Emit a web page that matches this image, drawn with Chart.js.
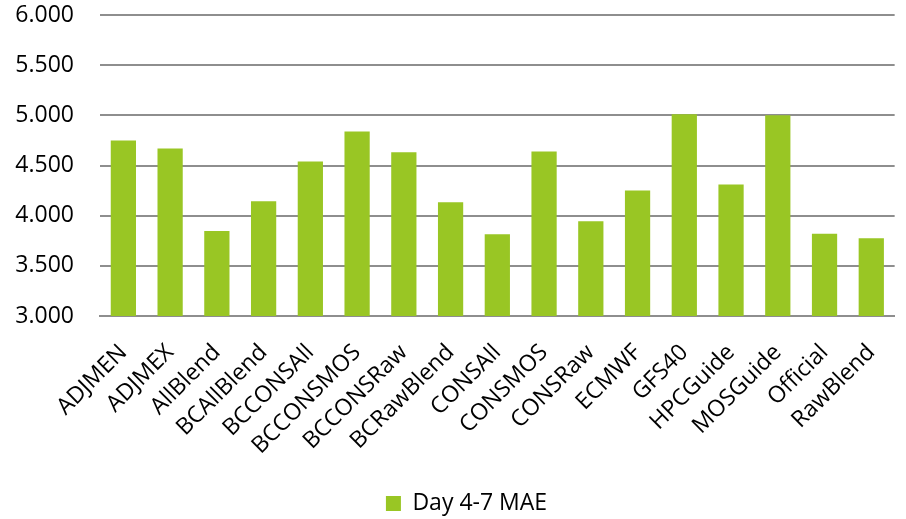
<!DOCTYPE html>
<html>
<head>
<meta charset="utf-8">
<script src="https://cdn.jsdelivr.net/npm/chart.js@4/dist/chart.umd.min.js"></script>
<style>
  body { margin: 0; background: #fff; }
</style>
</head>
<body>
<canvas id="myChart" width="906" height="519"></canvas>
<script>
const categories = ['ADJMEN', 'ADJMEX', 'AllBlend', 'BCAllBlend', 'BCCONSAll', 'BCCONSMOS',
  'BCCONSRaw', 'BCRawBlend', 'CONSAll', 'CONSMOS', 'CONSRaw', 'ECMWF', 'GFS40',
  'HPCGuide', 'MOSGuide', 'Official', 'RawBlend'];
const mae = [4.75, 4.67, 3.847, 4.144, 4.54, 4.84, 4.633, 4.134, 3.814, 4.64, 3.944,
  4.25, 5.012, 4.31, 5.0, 3.82, 3.775];
const seriesName = 'Day 4-7 MAE';

// nudge the legend right so it sits under the plot area like the original
const legendShift = {
  id: 'legendShift',
  afterLayout(chart) {
    chart.legend.left += 17;
    chart.legend.right += 17;
  }
};

const ctx = document.getElementById('myChart');

new Chart(ctx, {
  type: 'bar',
  data: {
    labels: categories,
    datasets: [{
      label: seriesName,
      data: mae,
      backgroundColor: '#99c624',
      borderWidth: 0,
      barPercentage: 0.54,
      categoryPercentage: 1
    }]
  },
  options: {
    responsive: false,
    animation: false,
    layout: { padding: { top: 15, right: 7, left: 0, bottom: -6 } },
    plugins: {
      tooltip: { enabled: false },
      legend: {
        position: 'bottom',
        labels: {
          boxWidth: 15,
          boxHeight: 15,
          padding: 4,
          color: '#000',
          font: { family: 'Open Sans', size: 23 }
        }
      }
    },
    scales: {
      y: {
        min: 3,
        max: 6,
        ticks: {
          stepSize: 0.5,
          color: '#000',
          padding: 26,
          font: { family: 'Open Sans', size: 23 },
          callback: v => v.toFixed(3)
        },
        grid: { color: '#8e8e8e', lineWidth: 2, drawTicks: false },
        border: { display: false },
        afterFit: s => { s.width = 100; s.paddingTop = 0; s.paddingBottom = 0; }
      },
      x: {
        ticks: {
          color: '#000',
          minRotation: 45,
          maxRotation: 45,
          padding: 15,
          font: { family: 'Open Sans', size: 23 }
        },
        grid: { display: false },
        border: { color: '#8e8e8e', width: 2 },
        afterFit: s => { s.height = 172; }
      }
    }
  },
  plugins: [legendShift]
});
</script>
</body>
</html>
